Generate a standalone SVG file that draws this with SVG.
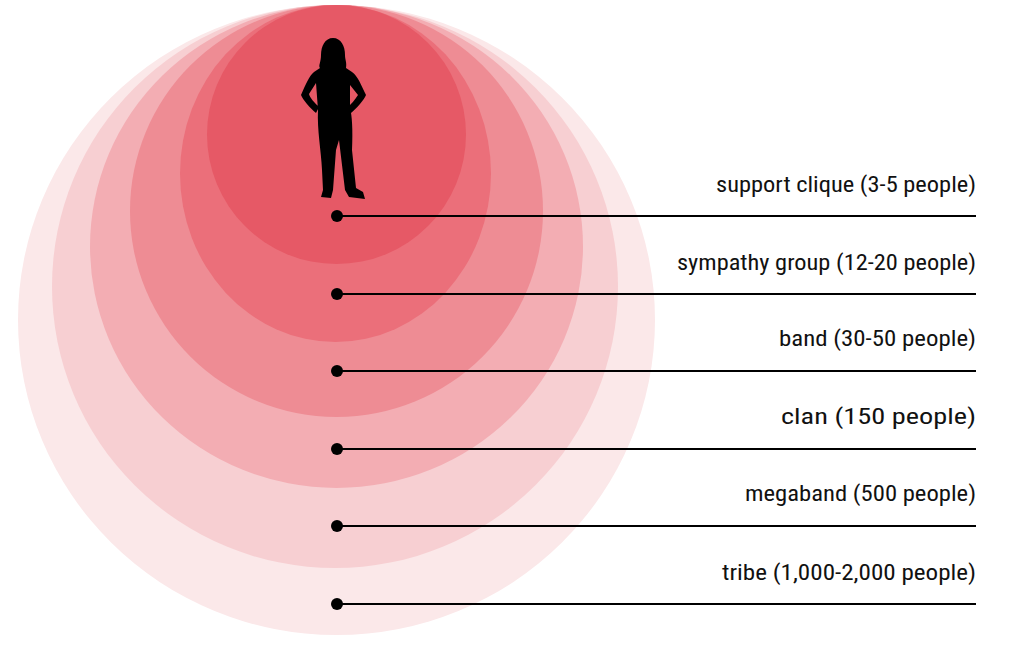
<svg xmlns="http://www.w3.org/2000/svg" width="1009" height="645" viewBox="0 0 1009 645">
<style>
.lbl{font-family:"Roboto Condensed","DejaVu Sans Condensed","Liberation Sans",sans-serif;font-size:22px;fill:#111;text-anchor:end}
.ln{stroke:#000;stroke-width:2}
</style>
<rect width="1009" height="645" fill="#fff"/>
<g id="rings">
<ellipse id="tribe" cx="336.5" cy="320" rx="318.5" ry="315" fill="#fbe8e9"/>
<ellipse id="megaband" cx="335" cy="286.5" rx="283" ry="281.5" fill="#f7cfd2"/>
<ellipse id="clan" cx="336.5" cy="246.5" rx="246.5" ry="241.5" fill="#f3adb3"/>
<ellipse id="band" cx="336.5" cy="211" rx="206.5" ry="206" fill="#ee8c94"/>
<ellipse id="sympathy" cx="335.5" cy="173.5" rx="155.5" ry="168.5" fill="#eb6f7a"/>
<ellipse id="support" cx="336.5" cy="134.5" rx="129.5" ry="129.5" fill="#e65966"/>
</g>
<g id="person">
<path fill="#000" d="M333,38 C325,38 321,46 321,55 C321,62 318,66 320,68 L314,72 C309,76 306,84 301,95 C303,100 310,108 316,113 L319,107 C314,102 310,98 309,94 L316,83 L318,110 C317,130 321,150 322,170 L323,190 L321,197 L331,198 L333,190 L336,150 L339,140 L345,190 L349,197 L365,199 L363,192 L356,188 L352,150 C353,130 352,115 350,108 L350,85 L358,95 C355,100 351,104 347,108 L351,113 C357,108 364,100 366,95 C361,85 358,76 352,72 L346,68 C347,62 345,60 345,55 C345,46 341,38 333,38 Z"/>
</g>
<g id="connectors">
<line class="ln" x1="337" y1="216" x2="976" y2="216"/><circle cx="337" cy="216" r="6"/>
<line class="ln" x1="337" y1="294" x2="976" y2="294"/><circle cx="337" cy="294" r="6"/>
<line class="ln" x1="337" y1="371" x2="976" y2="371"/><circle cx="337" cy="371" r="6"/>
<line class="ln" x1="337" y1="449" x2="976" y2="449"/><circle cx="337" cy="449" r="6"/>
<line class="ln" x1="337" y1="526" x2="976" y2="526"/><circle cx="337" cy="526" r="6"/>
<line class="ln" x1="337" y1="604" x2="976" y2="604"/><circle cx="337" cy="604" r="6"/>
</g>
<g id="labels">
<text class="lbl" x="976" y="192" textLength="260" lengthAdjust="spacingAndGlyphs">support clique (3-5 people)</text>
<text class="lbl" x="976" y="270" textLength="299" lengthAdjust="spacingAndGlyphs">sympathy group (12-20 people)</text>
<text class="lbl" x="976" y="346" textLength="197" lengthAdjust="spacingAndGlyphs">band (30-50 people)</text>
<text class="lbl" x="976" y="424" textLength="195" lengthAdjust="spacingAndGlyphs">clan (150 people)</text>
<text class="lbl" x="976" y="501" textLength="231" lengthAdjust="spacingAndGlyphs">megaband (500 people)</text>
<text class="lbl" x="976" y="580" textLength="254" lengthAdjust="spacingAndGlyphs">tribe (1,000-2,000 people)</text>
</g>
</svg>
